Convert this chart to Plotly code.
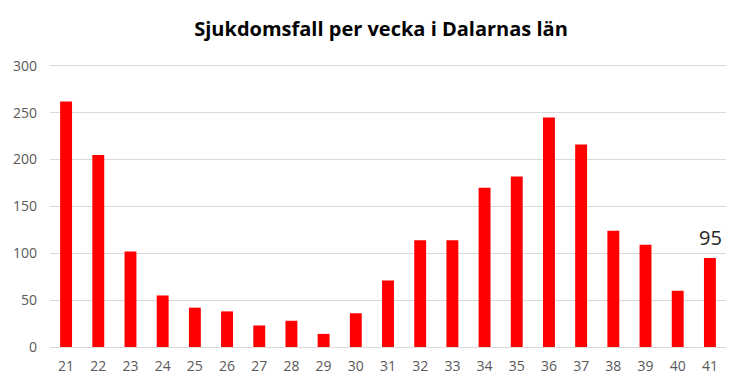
import plotly.graph_objects as go

weeks = [str(w) for w in range(21, 42)]
cases = [262, 205, 102, 55, 42, 38, 23, 28, 14, 36, 71, 114, 114, 170, 182, 245, 216, 124, 109, 60, 95]
label_week = "41"
label_idx = weeks.index(label_week)
label_value = cases[label_idx]

fig = go.Figure()
fig.add_trace(go.Bar(
    x=weeks, y=cases,
    marker=dict(color="#FF0000", line=dict(width=0)),
))
fig.add_annotation(
    x=label_idx, y=label_value, text=str(label_value),
    showarrow=False, yanchor="bottom", xanchor="center", yshift=5, xshift=1,
    font=dict(size=20, color="#262626", family="Open Sans"),
)
fig.update_layout(
    width=746, height=389,
    margin=dict(l=42, r=28, t=56, b=50, autoexpand=False),
    paper_bgcolor="white", plot_bgcolor="white",
    bargap=0.63,
    showlegend=False,
    title=dict(text="<b>Sjukdomsfall per vecka i Dalarnas län</b>",
               x=0.5, xanchor="center", y=0.945, yanchor="middle",
               font=dict(size=20, color="#000000", family="Open Sans")),
    font=dict(family="Open Sans", color="#595959", size=14),
)
fig.update_xaxes(type="category", showgrid=False, showline=True, linecolor="#d9d9d9",
                 linewidth=1, ticks="", tickfont=dict(size=14, color="#595959"),
                 ticklabelstandoff=6)
fig.update_yaxes(range=[0, 302], tickvals=[0, 50, 100, 150, 200, 250, 300],
                 showgrid=True, gridcolor="#d9d9d9",
                 gridwidth=1, zeroline=False, showline=False, ticks="",
                 tickfont=dict(size=14, color="#595959"), ticklabelstandoff=12)
fig.write_html("out.html")
